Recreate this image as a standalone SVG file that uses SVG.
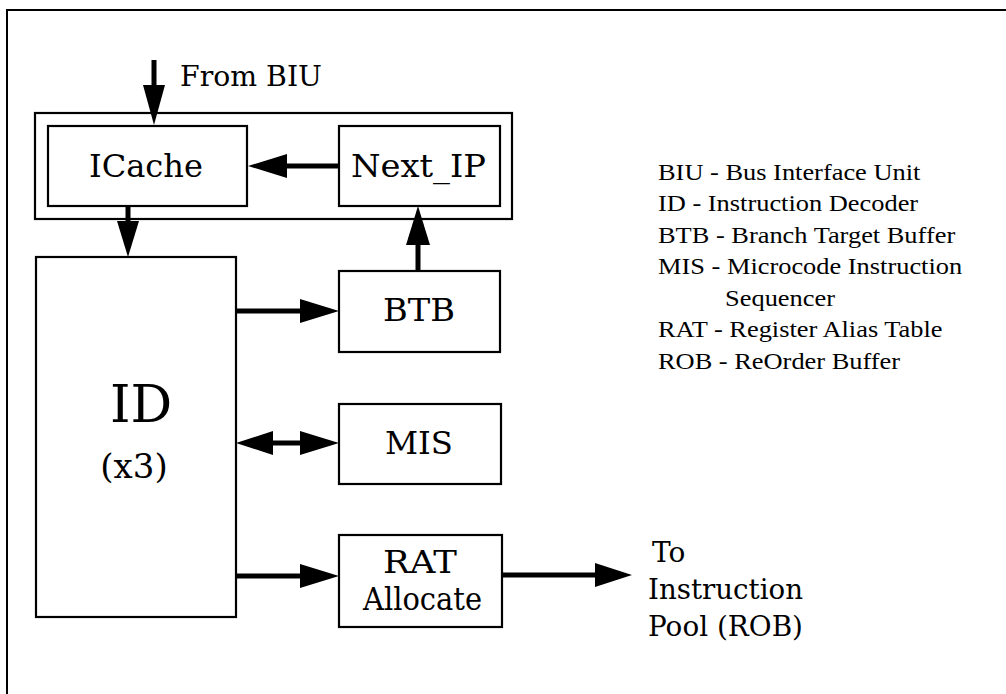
<svg xmlns="http://www.w3.org/2000/svg" width="1006" height="694" viewBox="0 0 1006 694">
<defs>
<style>
.box{fill:#fff;stroke:#000;stroke-width:2.2}
.frame{fill:none;stroke:#000;stroke-width:2}
.lbl{font-family:"DejaVu Serif","Liberation Serif",serif;font-size:31px;fill:#000;text-anchor:middle}
.txt{font-family:"DejaVu Serif","Liberation Serif",serif;font-size:28px;fill:#000}
.leg{font-family:"Liberation Serif","Times New Roman",serif;font-size:24px;fill:#000}
.wire{stroke:#000;stroke-width:5;fill:none}
.head{fill:#000;stroke:none}
</style>
</defs>
<rect width="1006" height="694" fill="#fff"/>
<path class="frame" d="M7,694 V10 H1006"/>
<g id="fetch-group"><rect class="box" x="35" y="113" width="477" height="106"/></g>
<g id="icache"><rect class="box" x="48" y="126" width="199" height="80"/><text class="lbl" x="146" y="177" textLength="114" lengthAdjust="spacingAndGlyphs">ICache</text></g>
<g id="nextip"><rect class="box" x="339" y="126" width="161" height="80"/><text class="lbl" x="418.5" y="177" textLength="135" lengthAdjust="spacingAndGlyphs">Next_IP</text></g>
<g id="id"><rect class="box" x="36" y="257" width="200" height="360"/><text class="lbl" x="141" y="422" style="font-size:52px">ID</text><text class="lbl" x="134" y="478" style="font-size:34px">(x3)</text></g>
<g id="btb"><rect class="box" x="339" y="271" width="161" height="81"/><text class="lbl" x="419" y="321" textLength="72" lengthAdjust="spacingAndGlyphs">BTB</text></g>
<g id="mis"><rect class="box" x="339" y="404" width="162" height="80"/><text class="lbl" x="419" y="454" textLength="68" lengthAdjust="spacingAndGlyphs">MIS</text></g>
<g id="rat"><rect class="box" x="339" y="535" width="163" height="92"/><text class="lbl" x="420" y="573" textLength="74" lengthAdjust="spacingAndGlyphs">RAT</text><text class="lbl" x="422.5" y="610" textLength="119" lengthAdjust="spacingAndGlyphs">Allocate</text></g>
<g id="connectors">
<line class="wire" x1="154" y1="60" x2="154" y2="90"/><polygon class="head" points="143,85 165,85 154,125"/>
<line class="wire" x1="128" y1="206" x2="128" y2="226"/><polygon class="head" points="117,221 139,221 128,257"/>
<line class="wire" x1="339" y1="166" x2="282" y2="166"/><polygon class="head" points="287,154 287,178 248,166"/>
<line class="wire" x1="418" y1="271" x2="418" y2="240"/><polygon class="head" points="406,245 430,245 418,206"/>
<line class="wire" x1="236" y1="311" x2="305" y2="311"/><polygon class="head" points="300,299 300,323 339,311"/>
<line class="wire" x1="270" y1="443" x2="305" y2="443"/><polygon class="head" points="273,431 273,455 236,443"/><polygon class="head" points="300,431 300,455 339,443"/>
<line class="wire" x1="236" y1="576" x2="305" y2="576"/><polygon class="head" points="300,564 300,588 339,576"/>
<line class="wire" x1="502" y1="575" x2="600" y2="575"/><polygon class="head" points="595,563 595,587 632,575"/>
</g>
<g id="labels">
<text class="txt" x="180" y="86" textLength="142" lengthAdjust="spacingAndGlyphs">From BIU</text>
<text class="txt" x="652" y="562">To</text>
<text class="txt" x="648" y="599" textLength="155" lengthAdjust="spacingAndGlyphs">Instruction</text>
<text class="txt" x="648" y="636" textLength="155" lengthAdjust="spacingAndGlyphs">Pool (ROB)</text>
</g>
<g id="legend" transform="translate(658 0) scale(1.1 1)">
<text class="leg" x="0" y="180">BIU - Bus Interface Unit</text>
<text class="leg" x="0" y="211.5">ID - Instruction Decoder</text>
<text class="leg" x="0" y="243">BTB - Branch Target Buffer</text>
<text class="leg" x="0" y="274.5">MIS - Microcode Instruction</text>
<text class="leg" x="61" y="306">Sequencer</text>
<text class="leg" x="0" y="337.5">RAT - Register Alias Table</text>
<text class="leg" x="0" y="369">ROB - ReOrder Buffer</text>
</g>
</svg>
